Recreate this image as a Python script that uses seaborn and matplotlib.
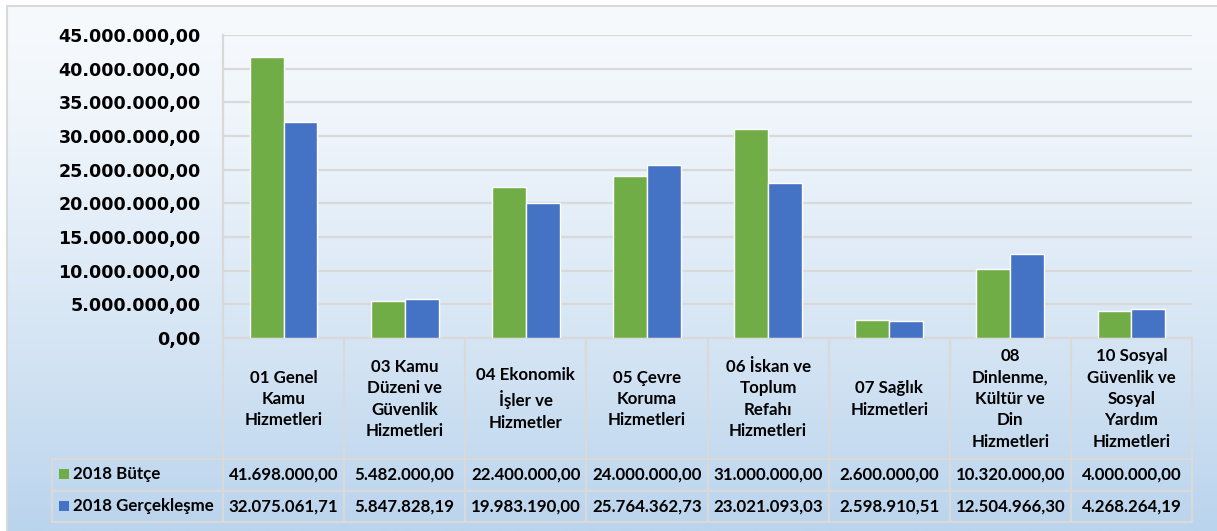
import numpy as np
import pandas as pd
import matplotlib
matplotlib.use("Agg")
import matplotlib.pyplot as plt
import seaborn as sns
from matplotlib.patches import Rectangle
from matplotlib.lines import Line2D
import matplotlib.transforms as mtransforms

# ---------------- data ----------------
categories = [
    "01 Genel\nKamu\nHizmetleri",
    "03 Kamu\nDüzeni ve\nGüvenlik\nHizmetleri",
    "04 Ekonomik\nİşler ve\nHizmetler",
    "05 Çevre\nKoruma\nHizmetleri",
    "06 İskan ve\nToplum\nRefahı\nHizmetleri",
    "07 Sağlık\nHizmetleri",
    "08\nDinlenme,\nKültür ve\nDin\nHizmetleri",
    "10 Sosyal\nGüvenlik ve\nSosyal\nYardım\nHizmetleri",
]
series = ["2018 Bütçe", "2018 Gerçekleşme"]
butce = [41698000.00, 5482000.00, 22400000.00, 24000000.00,
         31000000.00, 2600000.00, 10320000.00, 4000000.00]
gerceklesme = [32075061.71, 5847828.19, 19983190.00, 25764362.73,
               23021093.03, 2598910.51, 12504966.30, 4268264.19]
yticks = [0, 5e6, 10e6, 15e6, 20e6, 25e6, 30e6, 35e6, 40e6, 45e6]
colors = ["#70ad47", "#4472c4"]


def fmt(v):
    s = f"{v:,.2f}"
    return s.replace(",", "X").replace(".", ",").replace("X", ".")


sns.set_theme(style="white")
plt.rcParams['font.family'] = ['Lato', 'DejaVu Sans']

W, H = 1217, 531
fig = plt.figure(figsize=(W / 100, H / 100), dpi=100)
fig.patch.set_facecolor("white")

def fx(px):
    return px / W

def fy(py):
    return 1 - py / H

# background gradient inside frame
bg = fig.add_axes([fx(6), 0, 1 - fx(6), fy(5)])
top_c = np.array([247, 250, 253]) / 255
bot_c = np.array([186, 212, 237]) / 255
t = np.linspace(0, 1, 300)[:, None] ** 1.3
grad = top_c * (1 - t) + bot_c * t
bg.imshow(grad[:, None, :], aspect="auto", extent=[0, 1, 0, 1], origin="upper")
bg.set_axis_off()

frame_c = "#d9d9d9"
fig.add_artist(Line2D([fx(6.5), fx(6.5)], [0, fy(5.5)], color=frame_c, lw=1.5,
                      transform=fig.transFigure))
fig.add_artist(Line2D([fx(6.5), 1], [fy(5.5), fy(5.5)], color=frame_c, lw=1.5,
                      transform=fig.transFigure))

# main axes
ax_l, ax_r, ax_t, ax_b = 223, 1192, 35, 338
ax = fig.add_axes([fx(ax_l), fy(ax_b), fx(ax_r - ax_l), (ax_b - ax_t) / H])
ax.patch.set_alpha(0)

df = pd.DataFrame({
    "Kategori": categories * 2,
    "Seri": [series[0]] * len(categories) + [series[1]] * len(categories),
    "Değer": butce + gerceklesme,
})
sns.barplot(data=df, x="Kategori", y="Değer", hue="Seri", palette=colors,
            width=0.56, gap=0, saturation=1, errorbar=None, legend=False,
            ax=ax, zorder=3)

ax.set_xlim(-0.5, len(categories) - 0.5)
ax.set_ylim(0, 45e6)
ax.set_yticks(yticks)
ax.set_yticklabels([fmt(v) for v in yticks], fontweight="bold", fontsize=12.6,
                   family=["DejaVu Sans"], color="black")
ax.tick_params(axis="y", length=0, pad=16)
ax.set_xticks([])
ax.set_xlabel("")
ax.set_ylabel("")
ax.yaxis.grid(True, color=frame_c, lw=1.6)
ax.set_axisbelow(True)
for s in ["top", "right"]:
    ax.spines[s].set_visible(False)
for s in ["left", "bottom"]:
    ax.spines[s].set_color(frame_c)
    ax.spines[s].set_linewidth(1.6)

# ---------------- data table ----------------
tr = mtransforms.blended_transform_factory(ax.transData, fig.transFigure)
tab_left = 52
row_lines = [459, 491, 522]
tab_bottom = 522
n = len(categories)
for i in range(n + 1):
    fig.add_artist(Line2D([i - 0.5, i - 0.5], [fy(ax_b), fy(tab_bottom)],
                          color=frame_c, lw=1.6, transform=tr))
fig.add_artist(Line2D([fx(tab_left), fx(tab_left)], [fy(row_lines[0]), fy(tab_bottom)],
                      color=frame_c, lw=1.6, transform=fig.transFigure))
for ry in row_lines:
    fig.add_artist(Line2D([fx(tab_left), fx(ax_r)], [fy(ry), fy(ry)],
                          color=frame_c, lw=1.6, transform=fig.transFigure))

tfont = dict(fontsize=12.2, fontweight="bold", color="black")
for i, cat in enumerate(categories):
    fig.text(i, fy(399), cat, ha="center", va="center", transform=tr,
             linespacing=1.42, **tfont)
    fig.text(i, fy(474.5), fmt(butce[i]), ha="center", va="center",
             transform=tr, **tfont)
    fig.text(i, fy(506.5), fmt(gerceklesme[i]), ha="center", va="center",
             transform=tr, **tfont)

for k, (name, col, ry) in enumerate(zip(series, colors, [474.5, 506.5])):
    fig.add_artist(Rectangle((fx(59), fy(ry + 4.5)), fx(10), 10 / H,
                             facecolor=col, edgecolor="none",
                             transform=fig.transFigure))
    fig.text(fx(73), fy(ry), name, ha="left", va="center", **tfont)

fig.savefig("out.png", dpi=100)
